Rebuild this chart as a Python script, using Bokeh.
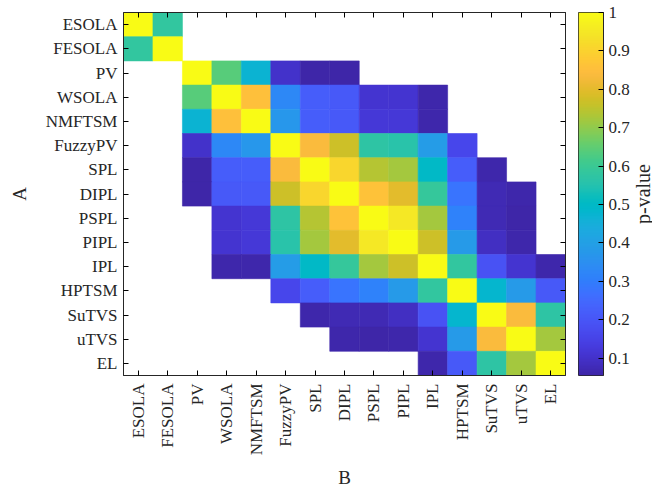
import numpy as np
from bokeh.plotting import figure
from bokeh.models import (LinearColorMapper, FixedTicker, CategoricalAxis,
                          ColumnDataSource, CustomLabelingPolicy)
from bokeh.core.properties import value
from bokeh.layouts import row
from bokeh.embed import file_html
from bokeh.resources import INLINE

# ---------------- data ----------------
methods = ["ESOLA", "FESOLA", "PV", "WSOLA", "NMFTSM", "FuzzyPV", "SPL", "DIPL",
           "PSPL", "PIPL", "IPL", "HPTSM", "SuTVS", "uTVS", "EL"]

N = None
# p-values, rows = A, columns = B (None = not compared)
pvals = [
    [1.00, 0.58, N, N, N, N, N, N, N, N, N, N, N, N, N],
    [0.58, 1.00, N, N, N, N, N, N, N, N, N, N, N, N, N],
    [N, N, 1.00, 0.64, 0.47, 0.10, 0.055, 0.055, N, N, N, N, N, N, N],
    [N, N, 0.64, 1.00, 0.855, 0.33, 0.22, 0.21, 0.11, 0.11, 0.06, N, N, N, N],
    [N, N, 0.47, 0.855, 1.00, 0.37, 0.22, 0.21, 0.12, 0.12, 0.06, N, N, N, N],
    [N, N, 0.10, 0.33, 0.37, 1.00, 0.84, 0.77, 0.57, 0.56, 0.39, 0.16, N, N, N],
    [N, N, 0.055, 0.22, 0.22, 0.84, 1.00, 0.91, 0.74, 0.72, 0.50, 0.22, 0.06, N, N],
    [N, N, 0.055, 0.21, 0.21, 0.77, 0.91, 1.00, 0.86, 0.80, 0.59, 0.28, 0.07, 0.06, N],
    [N, N, N, 0.11, 0.12, 0.57, 0.74, 0.86, 1.00, 0.95, 0.72, 0.31, 0.07, 0.055, N],
    [N, N, N, 0.11, 0.12, 0.56, 0.72, 0.80, 0.95, 1.00, 0.77, 0.38, 0.09, 0.06, N],
    [N, N, N, 0.06, 0.06, 0.39, 0.50, 0.59, 0.72, 0.77, 1.00, 0.58, 0.19, 0.11, 0.06],
    [N, N, N, N, N, 0.16, 0.22, 0.28, 0.31, 0.38, 0.58, 1.00, 0.48, 0.38, 0.21],
    [N, N, N, N, N, N, 0.06, 0.07, 0.07, 0.09, 0.19, 0.48, 1.00, 0.84, 0.57],
    [N, N, N, N, N, N, N, 0.06, 0.055, 0.06, 0.11, 0.38, 0.84, 1.00, 0.72],
    [N, N, N, N, N, N, N, N, N, N, 0.06, 0.21, 0.57, 0.72, 1.00],
]

cb_ticks = [0.1, 0.2, 0.3, 0.4, 0.5, 0.6, 0.7, 0.8, 0.9, 1.0]
cb_labels = {0.1: "0.1", 0.2: "0.2", 0.3: "0.3", 0.4: "0.4", 0.5: "0.5",
             0.6: "0.6", 0.7: "0.7", 0.8: "0.8", 0.9: "0.9", 1.0: "1"}
cb_title = "p-value"

# ---------------- parula colormap ----------------
PARULA64 = [
    (0.2422, 0.1504, 0.6603), (0.2504, 0.1650, 0.7076), (0.2578, 0.1818, 0.7511),
    (0.2647, 0.1978, 0.7952), (0.2706, 0.2147, 0.8364), (0.2751, 0.2342, 0.8710),
    (0.2783, 0.2559, 0.8991), (0.2803, 0.2782, 0.9221), (0.2813, 0.3006, 0.9414),
    (0.2810, 0.3228, 0.9579), (0.2795, 0.3447, 0.9717), (0.2760, 0.3667, 0.9829),
    (0.2699, 0.3892, 0.9906), (0.2602, 0.4123, 0.9952), (0.2440, 0.4358, 0.9988),
    (0.2206, 0.4603, 0.9973), (0.1963, 0.4847, 0.9892), (0.1834, 0.5074, 0.9798),
    (0.1786, 0.5289, 0.9682), (0.1764, 0.5499, 0.9520), (0.1687, 0.5703, 0.9359),
    (0.1540, 0.5902, 0.9218), (0.1460, 0.6091, 0.9079), (0.1380, 0.6276, 0.8973),
    (0.1248, 0.6459, 0.8883), (0.1113, 0.6635, 0.8763), (0.0952, 0.6798, 0.8598),
    (0.0689, 0.6948, 0.8394), (0.0297, 0.7082, 0.8163), (0.0036, 0.7203, 0.7917),
    (0.0067, 0.7312, 0.7660), (0.0433, 0.7411, 0.7394), (0.0964, 0.7500, 0.7120),
    (0.1408, 0.7584, 0.6842), (0.1717, 0.7670, 0.6554), (0.1938, 0.7758, 0.6251),
    (0.2161, 0.7843, 0.5923), (0.2470, 0.7918, 0.5567), (0.2906, 0.7973, 0.5188),
    (0.3406, 0.8008, 0.4789), (0.3909, 0.8029, 0.4354), (0.4456, 0.8024, 0.3909),
    (0.5044, 0.7993, 0.3480), (0.5616, 0.7942, 0.3045), (0.6174, 0.7876, 0.2612),
    (0.6720, 0.7793, 0.2227), (0.7242, 0.7698, 0.1910), (0.7738, 0.7598, 0.1646),
    (0.8203, 0.7498, 0.1535), (0.8634, 0.7406, 0.1596), (0.9035, 0.7330, 0.1774),
    (0.9393, 0.7288, 0.2100), (0.9728, 0.7298, 0.2394), (0.9956, 0.7434, 0.2371),
    (0.9970, 0.7659, 0.2199), (0.9952, 0.7893, 0.2028), (0.9892, 0.8136, 0.1885),
    (0.9786, 0.8386, 0.1766), (0.9676, 0.8639, 0.1643), (0.9610, 0.8890, 0.1537),
    (0.9597, 0.9135, 0.1423), (0.9628, 0.9373, 0.1265), (0.9691, 0.9606, 0.1064),
    (0.9769, 0.9839, 0.0805),
]


def parula(n=256):
    arr = np.array(PARULA64)
    src_t = np.linspace(0, 1, len(arr))
    dst_t = np.linspace(0, 1, n)
    out = []
    for t in dst_t:
        rgb = [np.interp(t, src_t, arr[:, k]) for k in range(3)]
        out.append("#%02x%02x%02x" % tuple(int(round(c * 255)) for c in rgb))
    return out


palette = parula(256)
all_vals = [v for r in pvals for v in r if v is not None]
cmin = min(all_vals)
cmax = max(all_vals)
mapper = LinearColorMapper(palette=palette, low=cmin, high=cmax)

xs, ys, vs = [], [], []
for i, a in enumerate(methods):
    for j, b in enumerate(methods):
        v = pvals[i][j]
        if v is None:
            continue
        xs.append(b)
        ys.append(a)
        vs.append(v)
src = ColumnDataSource(dict(B=xs, A=ys, v=vs))

FONT = "Liberation Serif"
TXT = "#262626"
TICK_FS = "17px"
LABEL_FS = "19px"

H = 491
TOP = 12
BOTTOM = 116

# ---------------- main heatmap ----------------
p = figure(width=571, height=H, x_range=methods, y_range=list(reversed(methods)),
           output_backend="svg", toolbar_location=None,
           min_border_left=123, min_border_right=6, min_border_top=TOP,
           min_border_bottom=BOTTOM)
p.rect(x="B", y="A", width=1, height=1, source=src,
       fill_color={"field": "v", "transform": mapper},
       line_color={"field": "v", "transform": mapper}, line_width=0.6)

p.xgrid.visible = False
p.ygrid.visible = False
p.outline_line_color = TXT
p.outline_line_width = 1
p.background_fill_color = "white"

for ax in (p.xaxis[0], p.yaxis[0]):
    ax.major_tick_in = 5
    ax.major_tick_out = 0
    ax.major_label_text_font = FONT
    ax.major_label_text_font_size = TICK_FS
    ax.major_label_text_color = TXT
    ax.axis_label_text_font = FONT
    ax.axis_label_text_font_size = LABEL_FS
    ax.axis_label_text_font_style = "normal"
    ax.axis_label_text_color = TXT
    ax.axis_line_color = TXT

p.xaxis.axis_label = "B"
p.yaxis.axis_label = "A"
p.xaxis.major_label_orientation = np.pi / 2
p.xaxis.major_label_standoff = 8
p.xaxis.axis_label_standoff = 9
p.yaxis.major_label_standoff = 6
p.yaxis.axis_label_standoff = 13


def tick_only_axis():
    return CategoricalAxis(
        major_tick_in=5, major_tick_out=0, major_label_text_font_size="0px",
        major_label_standoff=0, axis_line_color=TXT,
        major_label_policy=CustomLabelingPolicy(code="for (const i of []) { yield i }"))


p.add_layout(tick_only_axis(), "above")
p.add_layout(tick_only_axis(), "right")

# ---------------- colorbar ----------------
cb = figure(width=61, height=H, x_range=(0, 1), y_range=(cmin, cmax),
            output_backend="svg", toolbar_location=None, y_axis_location="right",
            min_border_left=7, min_border_right=28, min_border_top=TOP,
            min_border_bottom=BOTTOM)
grad = np.linspace(cmin, cmax, 256).reshape(-1, 1)
cb.image(image=[grad], x=0, y=cmin, dw=1, dh=cmax - cmin, color_mapper=mapper)
cb.xaxis.visible = False
cb.xgrid.visible = False
cb.ygrid.visible = False
cb.outline_line_color = TXT
cb.yaxis.ticker = FixedTicker(ticks=cb_ticks, minor_ticks=[])
cb.yaxis.major_label_overrides = cb_labels
cb.yaxis.major_tick_in = 5
cb.yaxis.major_tick_out = 0
cb.yaxis.minor_tick_line_color = None
cb.yaxis.axis_line_color = TXT
cb.yaxis.major_label_text_font = FONT
cb.yaxis.major_label_text_font_size = TICK_FS
cb.yaxis.major_label_text_color = TXT
cb.yaxis.major_label_standoff = 5

# ---------------- colorbar label ----------------
lab = figure(width=20, height=H, x_range=(0, 1), y_range=(0, 1),
             output_backend="svg", toolbar_location=None,
             x_axis_location=None, y_axis_location=None,
             min_border_left=0, min_border_right=0, min_border_top=TOP,
             min_border_bottom=BOTTOM)
lab.outline_line_color = None
lab.xgrid.visible = False
lab.ygrid.visible = False
lab.text(x=[0.5], y=[0.5], text=[cb_title], angle=np.pi / 2,
         text_align="center", text_baseline="middle",
         text_font=value(FONT), text_font_size="20px", text_color=TXT)

layout = row(p, cb, lab)
open("out.html", "w").write(file_html(layout, INLINE))
